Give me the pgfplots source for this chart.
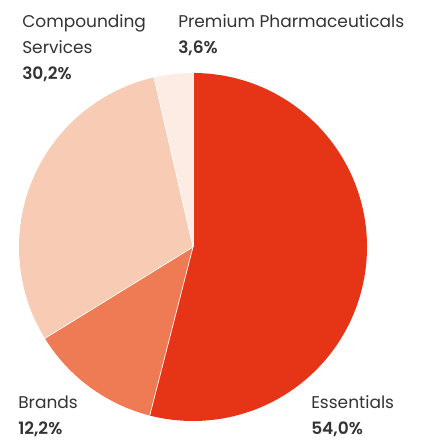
\documentclass[border=0pt]{standalone}
\usepackage{pgfplots}
\usepackage{pgfplotstable}
\usepackage{fontspec}
\setmainfont{Poppins}[BoldFont={Poppins SemiBold}]
\pgfplotsset{compat=1.18}

\definecolor{cEss}{HTML}{E63416}
\definecolor{cBra}{HTML}{EF7B55}
\definecolor{cCom}{HTML}{F8CBB5}
\definecolor{cPre}{HTML}{FDECE4}
\definecolor{txt}{HTML}{333333}

% shares in percent, clockwise from 12 o'clock
\pgfplotstableread{
name value
Essentials 54.0
Brands 12.2
Compounding 30.2
Premium 3.6
}\piedata

\newcommand{\pieslice}[3]{%
  \fill[#1] (axis cs:193,194) -- ++(#2:130.5pt) arc[start angle=#2, end angle=#3, radius=130.5pt] -- cycle;
  \draw[white, line width=0.5pt] (axis cs:193,194) -- ++(#2:130.5pt);}

\tikzset{lab/.style={anchor=base west, inner sep=0pt, text=txt, font=\fontsize{12.75}{15}\selectfont}}

\begin{document}%
\pgfplotstablegetelem{0}{value}\of\piedata \let\vA\pgfplotsretval%
\pgfplotstablegetelem{1}{value}\of\piedata \let\vB\pgfplotsretval%
\pgfplotstablegetelem{2}{value}\of\piedata \let\vC\pgfplotsretval%
\pgfplotstablegetelem{3}{value}\of\piedata \let\vD\pgfplotsretval%
\pgfmathsetmacro\aA{90-3.6*\vA}%
\pgfmathsetmacro\aB{\aA-3.6*\vB}%
\pgfmathsetmacro\aC{\aB-3.6*\vC}%
\pgfmathsetmacro\aD{\aC-3.6*\vD}%
\begin{tikzpicture}
\begin{axis}[
    x=0.75pt, y=0.75pt,
    xmin=0, xmax=421, ymin=0, ymax=441,
    hide axis,
    clip=false,
]
\path (axis cs:0,0) rectangle (axis cs:421,441);
\pieslice{cEss}{90}{\aA}
\pieslice{cBra}{\aA}{\aB}
\pieslice{cCom}{\aB}{\aC}
\pieslice{cPre}{\aC}{\aD}

\node[lab] at (axis cs:22,413) {Compounding};
\node[lab] at (axis cs:22,387) {Services};
\node[lab] at (axis cs:22,361) {\bfseries 30,2\%};
\node[lab] at (axis cs:178,413) {Premium Pharmaceuticals};
\node[lab] at (axis cs:178,387) {\bfseries 3,6\%};
\node[lab] at (axis cs:18,32) {Brands};
\node[lab] at (axis cs:18,7) {\bfseries 12,2\%};
\node[lab] at (axis cs:311,32) {Essentials};
\node[lab] at (axis cs:311,7) {\bfseries 54,0\%};
\end{axis}
\end{tikzpicture}%
\end{document}
